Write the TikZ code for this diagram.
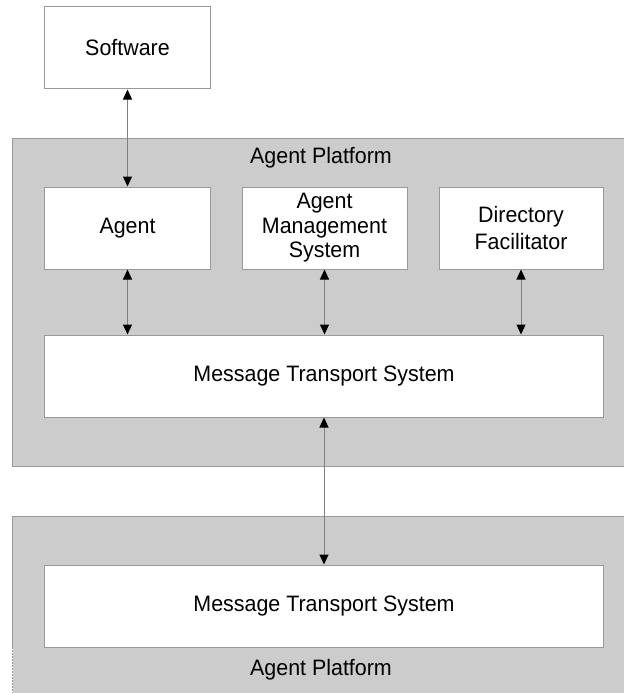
\documentclass[tikz,border=0pt]{standalone}
\usepackage{fontspec}
\setmainfont{Liberation Sans}[FakeStretch=0.96]
\usetikzlibrary{arrows.meta,calc}

\definecolor{platfill}{HTML}{CCCCCC}
\definecolor{edgegray}{HTML}{999999}
\definecolor{linkgray}{HTML}{808080}

\tikzset{
  box/.style={draw=edgegray, fill=white, line width=1bp, rectangle,
              minimum height=82bp, inner sep=2bp, align=center,
              font=\fontsize{22.4}{25}\selectfont},
  platform/.style={fill=platfill},
  platedge/.style={draw=edgegray, line width=1bp},
  biarrow/.style={draw=linkgray, line width=1bp,
    {Triangle[color=black,length=10bp,width=9bp]}-{Triangle[color=black,length=10bp,width=9bp]}},
  lbl/.style={font=\fontsize{22.4}{25}\selectfont, inner sep=0pt}
}

\begin{document}
\begin{tikzpicture}[x=1bp,y=-1bp]
  \clip (0,0) rectangle (624,693);
  \fill[white] (0,0) rectangle (624,693);

  % upper agent platform
  \fill[platform] (12.5,138) rectangle (640,466);
  \draw[platedge] (640,138) -- (12.5,138) -- (12.5,466) -- (640,466);
  \node[lbl] (ap1) at (321,158) {Agent Platform};

  % lower agent platform
  \fill[platform] (12.5,516) rectangle (640,720);
  \draw[platedge] (640,516) -- (12.5,516) -- (12.5,647);
  \draw[platedge, dash pattern=on 1.5bp off 1.5bp] (12.5,647) -- (12.5,700);
  \node[lbl] (ap2) at (321,670) {Agent Platform};

  % components
  \node[box, minimum width=165bp] (sw) at (127.5,48) {Software};
  \node[box, minimum width=165bp] (agent) at (127.5,228) {Agent};
  \node[box, minimum width=165bp, font=\fontsize{22.4}{24.5}\selectfont] (ams) at (324.5,228)
       {Agent\\Management\\System};
  \node[box, minimum width=164bp, font=\fontsize{22.4}{27}\selectfont] (df) at (521,228)
       {Directory\\Facilitator};
  \node[box, minimum width=558bp] (mts) at (324,376) {Message Transport System};
  \node[box, minimum width=558bp] (mts2) at (324,606) {Message Transport System};

  % message links
  \draw[biarrow] (sw.south) -- (agent.north);
  \draw[biarrow] (agent.south) -- (agent.south |- mts.north);
  \draw[biarrow] (ams.south) -- (ams.south |- mts.north);
  \draw[biarrow] (df.south) -- (df.south |- mts.north);
  \draw[biarrow] (mts.south) -- (mts2.north);
\end{tikzpicture}
\end{document}
